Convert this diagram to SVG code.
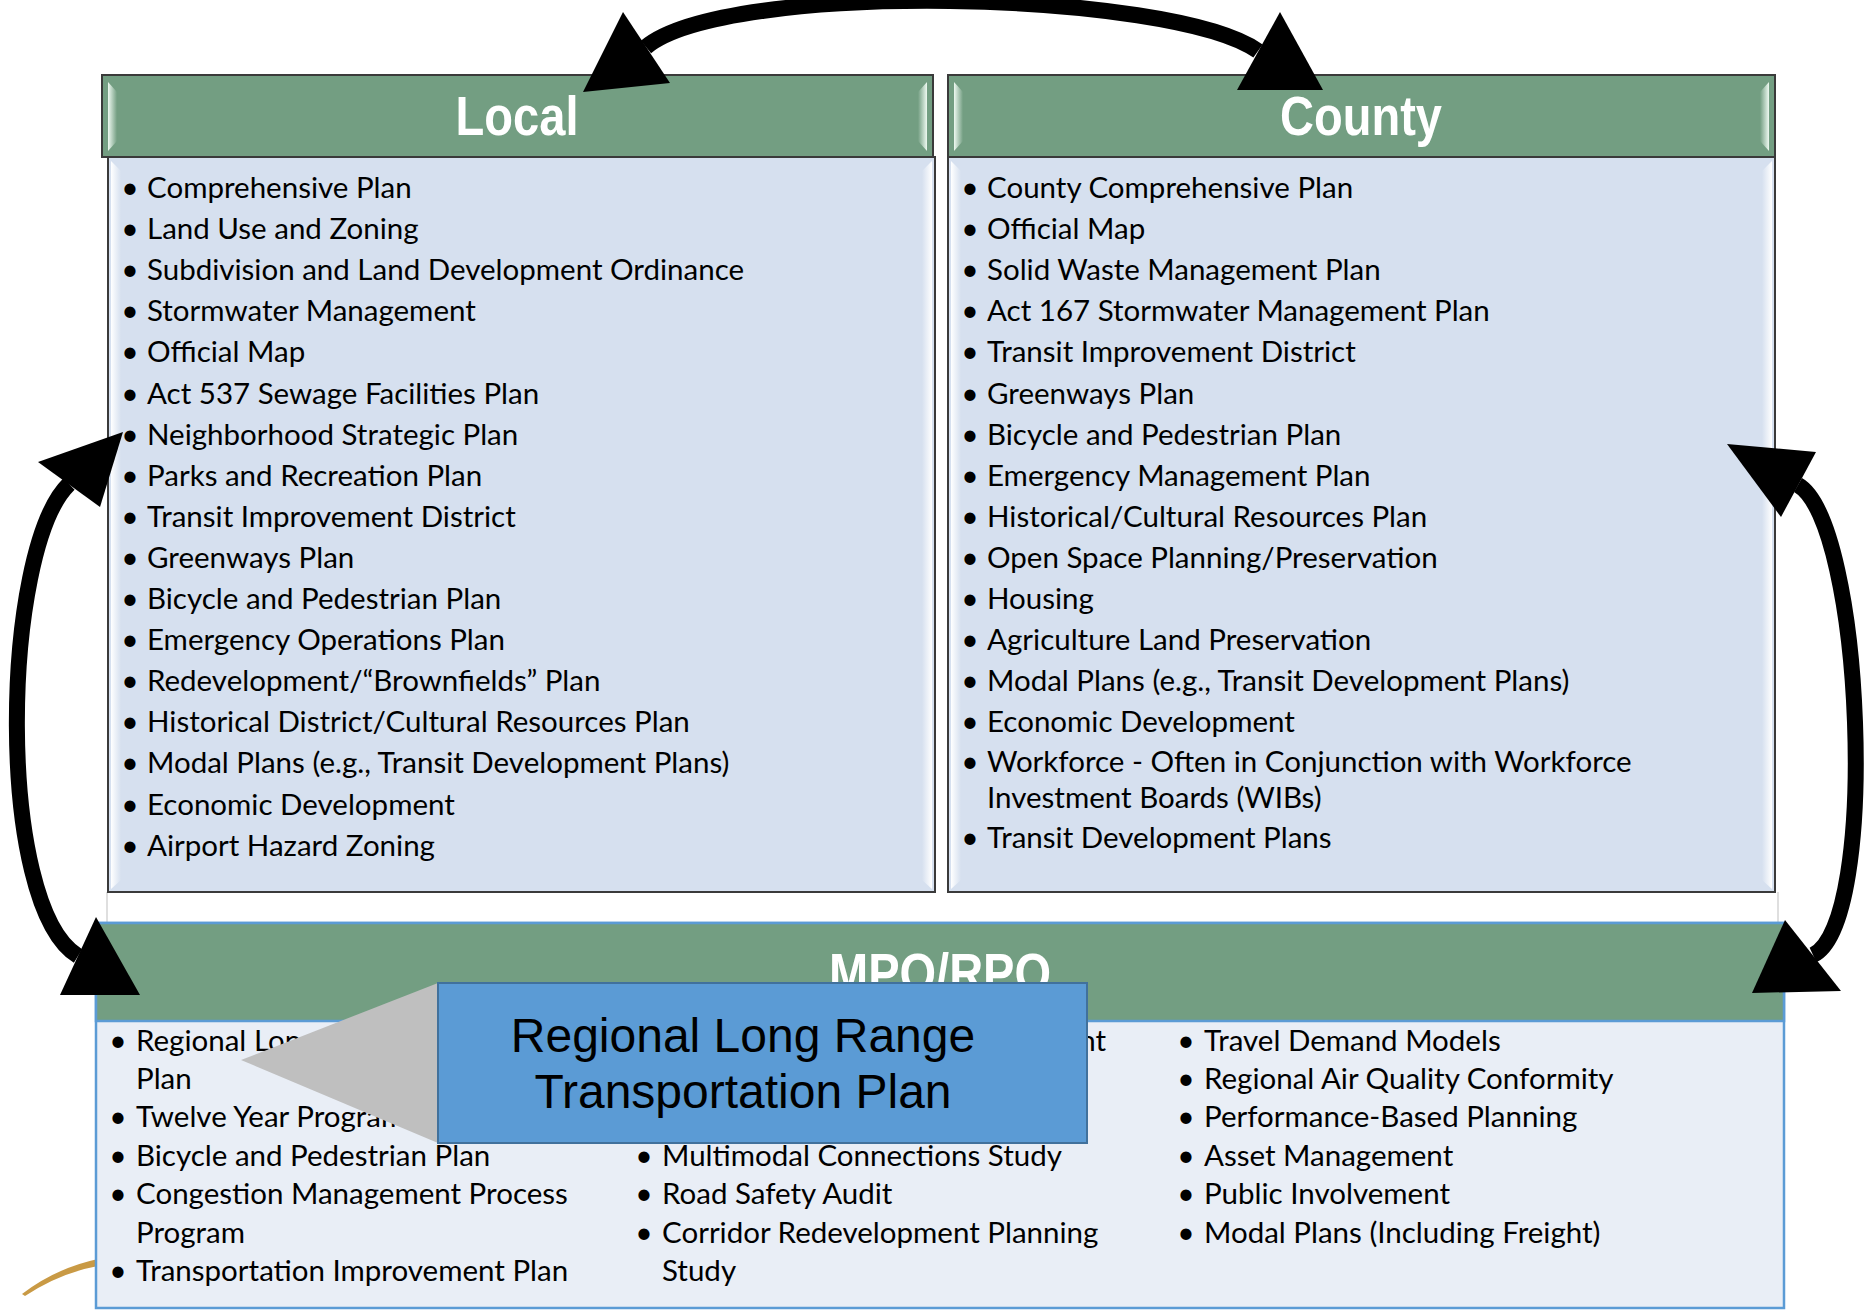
<svg xmlns="http://www.w3.org/2000/svg" width="1865" height="1311" viewBox="0 0 1865 1311">
<defs>
  <linearGradient id="hlL" x1="0" x2="1" y1="0" y2="0"><stop offset="0" stop-color="#eef9f1"/><stop offset="1" stop-color="#739e82"/></linearGradient>
  <linearGradient id="hlR" x1="0" x2="1" y1="0" y2="0"><stop offset="0" stop-color="#739e82"/><stop offset="1" stop-color="#eef9f1"/></linearGradient>
  <linearGradient id="bL" x1="0" x2="1" y1="0" y2="0"><stop offset="0" stop-color="#ffffff"/><stop offset="1" stop-color="#d6e0ef"/></linearGradient>
  <linearGradient id="bR" x1="0" x2="1" y1="0" y2="0"><stop offset="0" stop-color="#d6e0ef"/><stop offset="1" stop-color="#ffffff"/></linearGradient>
</defs>
<style>
  .hdr{fill:#739e82;stroke:#3a3a3a;stroke-width:2}
  .body{fill:#d6e0ef;stroke:#3a3a3a;stroke-width:2}
  .title{font-family:"Liberation Sans Narrow","Liberation Sans",Arial,sans-serif;font-weight:bold;font-size:56px;fill:#ffffff;text-anchor:middle}
  .li{font-family:Lato,"Open Sans",sans-serif;font-size:29.5px;fill:#000000}
  .b{font-family:Lato,"Open Sans",sans-serif;font-size:30px;fill:#000000;text-anchor:middle}
  .co{font-family:"Liberation Sans",Arial,sans-serif;font-size:48px;fill:#000000;text-anchor:middle}
  .arc{fill:none;stroke:#000000;stroke-width:16}
  .head{fill:#000000}
</style>
<rect width="1865" height="1311" fill="#ffffff"/>

<g id="background">
  <line x1="107" y1="892" x2="107" y2="923" stroke="#d4d4d4" stroke-width="1.5"/>
  <line x1="1778" y1="892" x2="1778" y2="923" stroke="#d4d4d4" stroke-width="1.5"/>
  <path d="M 22 1294 Q 56 1268 98 1259 L 98 1266 Q 60 1273 25 1296 Z" fill="#c99a45"/>
</g>

<g id="local">
  <rect class="body" x="108" y="157" width="827" height="735"/>
  <polygon points="111,161 121,171 121,880 111,889" fill="url(#bL)"/>
  <polygon points="932,161 922,171 922,880 932,889" fill="url(#bR)"/>
  <rect class="hdr" x="102" y="75" width="831" height="82"/>
  <polygon points="108,82 117,92 117,141 108,151" fill="url(#hlL)"/>
  <polygon points="927,82 918,92 918,141 927,151" fill="url(#hlR)"/>
  <text class="title" x="517" y="135" textLength="123" lengthAdjust="spacingAndGlyphs">Local</text>
  <text class="b" x="130" y="198">•</text><text class="li" x="147" y="198">Comprehensive Plan</text>
  <text class="b" x="130" y="239">•</text><text class="li" x="147" y="239">Land Use and Zoning</text>
  <text class="b" x="130" y="280">•</text><text class="li" x="147" y="280">Subdivision and Land Development Ordinance</text>
  <text class="b" x="130" y="321">•</text><text class="li" x="147" y="321">Stormwater Management</text>
  <text class="b" x="130" y="362">•</text><text class="li" x="147" y="362">Official Map</text>
  <text class="b" x="130" y="404">•</text><text class="li" x="147" y="404">Act 537 Sewage Facilities Plan</text>
  <text class="b" x="130" y="445">•</text><text class="li" x="147" y="445">Neighborhood Strategic Plan</text>
  <text class="b" x="130" y="486">•</text><text class="li" x="147" y="486">Parks and Recreation Plan</text>
  <text class="b" x="130" y="527">•</text><text class="li" x="147" y="527">Transit Improvement District</text>
  <text class="b" x="130" y="568">•</text><text class="li" x="147" y="568">Greenways Plan</text>
  <text class="b" x="130" y="609">•</text><text class="li" x="147" y="609">Bicycle and Pedestrian Plan</text>
  <text class="b" x="130" y="650">•</text><text class="li" x="147" y="650">Emergency Operations Plan</text>
  <text class="b" x="130" y="691">•</text><text class="li" x="147" y="691">Redevelopment/“Brownfields” Plan</text>
  <text class="b" x="130" y="732">•</text><text class="li" x="147" y="732">Historical District/Cultural Resources Plan</text>
  <text class="b" x="130" y="773">•</text><text class="li" x="147" y="773">Modal Plans (e.g., Transit Development Plans)</text>
  <text class="b" x="130" y="815">•</text><text class="li" x="147" y="815">Economic Development</text>
  <text class="b" x="130" y="856">•</text><text class="li" x="147" y="856">Airport Hazard Zoning</text>
</g>

<g id="county">
  <rect class="body" x="948" y="157" width="827" height="735"/>
  <polygon points="951,161 961,171 961,880 951,889" fill="url(#bL)"/>
  <polygon points="1772,161 1762,171 1762,880 1772,889" fill="url(#bR)"/>
  <rect class="hdr" x="948" y="75" width="827" height="82"/>
  <polygon points="954,82 963,92 963,141 954,151" fill="url(#hlL)"/>
  <polygon points="1769,82 1760,92 1760,141 1769,151" fill="url(#hlR)"/>
  <text class="title" x="1361" y="135" textLength="162" lengthAdjust="spacingAndGlyphs">County</text>
  <text class="b" x="970" y="198">•</text><text class="li" x="987" y="198">County Comprehensive Plan</text>
  <text class="b" x="970" y="239">•</text><text class="li" x="987" y="239">Official Map</text>
  <text class="b" x="970" y="280">•</text><text class="li" x="987" y="280">Solid Waste Management Plan</text>
  <text class="b" x="970" y="321">•</text><text class="li" x="987" y="321">Act 167 Stormwater Management Plan</text>
  <text class="b" x="970" y="362">•</text><text class="li" x="987" y="362">Transit Improvement District</text>
  <text class="b" x="970" y="404">•</text><text class="li" x="987" y="404">Greenways Plan</text>
  <text class="b" x="970" y="445">•</text><text class="li" x="987" y="445">Bicycle and Pedestrian Plan</text>
  <text class="b" x="970" y="486">•</text><text class="li" x="987" y="486">Emergency Management Plan</text>
  <text class="b" x="970" y="527">•</text><text class="li" x="987" y="527">Historical/Cultural Resources Plan</text>
  <text class="b" x="970" y="568">•</text><text class="li" x="987" y="568">Open Space Planning/Preservation</text>
  <text class="b" x="970" y="609">•</text><text class="li" x="987" y="609">Housing</text>
  <text class="b" x="970" y="650">•</text><text class="li" x="987" y="650">Agriculture Land Preservation</text>
  <text class="b" x="970" y="691">•</text><text class="li" x="987" y="691">Modal Plans (e.g., Transit Development Plans)</text>
  <text class="b" x="970" y="732">•</text><text class="li" x="987" y="732">Economic Development</text>
  <text class="b" x="970" y="772">•</text><text class="li" x="987" y="772">Workforce - Often in Conjunction with Workforce</text>
  <text class="li" x="987" y="808">Investment Boards (WIBs)</text>
  <text class="b" x="970" y="848">•</text><text class="li" x="987" y="848">Transit Development Plans</text>
</g>

<g id="mpo">
  <rect x="96" y="923" width="1688" height="385" fill="#e9eef6" stroke="#5b9bd5" stroke-width="2.5"/>
  <rect x="96" y="923" width="1688" height="98" fill="#739e82" stroke="#5b9bd5" stroke-width="2.5"/>
  <text class="title" x="940" y="992" textLength="222" lengthAdjust="spacingAndGlyphs">MPO/RPO</text>
  <text class="b" x="118" y="1051">•</text><text class="li" x="136" y="1051">Regional Long Range</text>
  <text class="li" x="136" y="1089">Plan</text>
  <text class="b" x="118" y="1127">•</text><text class="li" x="136" y="1127">Twelve Year Program</text>
  <text class="b" x="118" y="1166">•</text><text class="li" x="136" y="1166">Bicycle and Pedestrian Plan</text>
  <text class="b" x="118" y="1204">•</text><text class="li" x="136" y="1204">Congestion Management Process</text>
  <text class="li" x="136" y="1243">Program</text>
  <text class="b" x="118" y="1281">•</text><text class="li" x="136" y="1281">Transportation Improvement Plan</text>
  <text class="li" x="1106" y="1051" text-anchor="end">nt</text>
  <text class="b" x="644" y="1166">•</text><text class="li" x="662" y="1166">Multimodal Connections Study</text>
  <text class="b" x="644" y="1204">•</text><text class="li" x="662" y="1204">Road Safety Audit</text>
  <text class="b" x="644" y="1243">•</text><text class="li" x="662" y="1243">Corridor Redevelopment Planning</text>
  <text class="li" x="662" y="1281">Study</text>
  <text class="b" x="1186" y="1051">•</text><text class="li" x="1204" y="1051">Travel Demand Models</text>
  <text class="b" x="1186" y="1089">•</text><text class="li" x="1204" y="1089">Regional Air Quality Conformity</text>
  <text class="b" x="1186" y="1127">•</text><text class="li" x="1204" y="1127">Performance-Based Planning</text>
  <text class="b" x="1186" y="1166">•</text><text class="li" x="1204" y="1166">Asset Management</text>
  <text class="b" x="1186" y="1204">•</text><text class="li" x="1204" y="1204">Public Involvement</text>
  <text class="b" x="1186" y="1243">•</text><text class="li" x="1204" y="1243">Modal Plans (Including Freight)</text>
</g>

<g id="callout">
  <polygon points="241,1060 438,983 438,1143" fill="#bfbfbf"/>
  <rect x="438" y="983" width="649" height="160" fill="#5b9bd5" stroke="#41719c" stroke-width="2"/>
  <text class="co" x="743" y="1052">Regional Long Range</text>
  <text class="co" x="743" y="1108">Transportation Plan</text>
</g>

<g id="connectors">
  <path class="arc" d="M 646 47 C 727 -20, 1172 -10, 1258 51"/>
  <polygon class="head" points="623,12 583,92 670,83"/>
  <polygon class="head" points="1280,12 1237,90 1323,90"/>
  <path class="arc" d="M 69 484 C 1 550, -5 906, 78 956"/>
  <polygon class="head" points="38,462 123,432 100,507"/>
  <polygon class="head" points="60,995 96,917 140,995"/>
  <path class="arc" d="M 1798 485 C 1863 522, 1880 924, 1813 955"/>
  <polygon class="head" points="1727,444 1816,452 1781,517"/>
  <polygon class="head" points="1785,920 1752,993 1841,991"/>
</g>
</svg>
